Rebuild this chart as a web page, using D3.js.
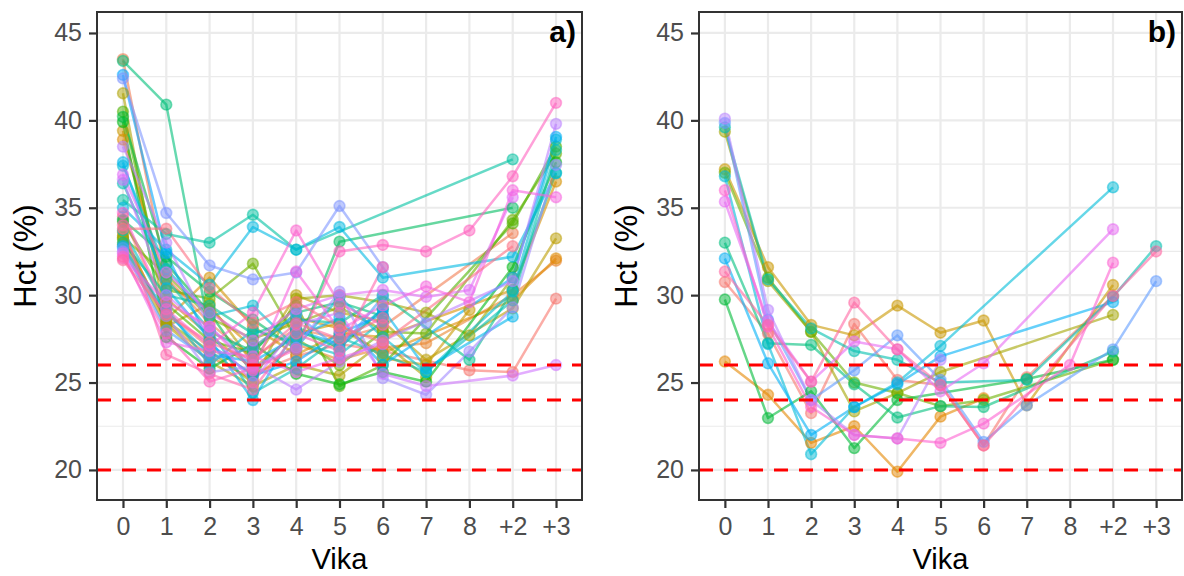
<!DOCTYPE html>
<html>
<head>
<meta charset="utf-8">
<script src="https://cdn.jsdelivr.net/npm/d3@7"></script>
<style>
  html, body { margin: 0; padding: 0; background: #fff; }
  svg { display: block; font-family: "Liberation Sans", Arial, sans-serif; }
</style>
</head>
<body>
<svg id="chart" width="1184" height="576"></svg>
<script>
// ---------- data ----------
const weeks = ["0", "1", "2", "3", "4", "5", "6", "7", "8", "+2", "+3"];
const yTicks = [20, 25, 30, 35, 40, 45];
const yMinor = [22.5, 27.5, 32.5, 37.5, 42.5];
const refLines = [20, 24, 26];
const panelTags = ["a)", "b)"];

// panel a: one row per subject, values per week (null = not measured)
const seriesA = [
  [34.5, 29.0, 27.0, 25.5, 26.5, 27.2, 26.8, null, 25.7, 25.6, 29.8],
  [43.5, 31.0, 28.4, 26.4, 28.1, 27.5, 28.2, null, null, 33.55, null],
  [33.6, 28.4, 26.5, 25.2, 27.2, 26.3, 27.0, 27.25, null, 30.0, 31.97],
  [38.9, 30.6, 29.2, 27.0, 28.7, 28.1, 26.7, null, null, 29.7, 32.1],
  [33.4, 28.6, 31.0, 28.2, 26.6, 27.8, 27.6, null, null, 30.3, 36.5],
  [39.4, 29.8, 27.7, 25.8, 27.8, 28.4, 26.4, 26.0, 29.15, null, null],
  [32.9, 28.2, 29.5, 26.1, 30.0, 29.0, 28.5, 26.3, null, 29.25, 33.25],
  [41.55, 28.3, 26.2, 24.8, 26.0, 25.4, 27.3, 25.3, null, null, null],
  [33.2, 28.5, 26.8, 25.0, 29.8, 30.0, 29.6, 29.0, 27.7, 31.0, null],
  [33.3, 31.2, 28.7, 27.5, 28.4, 29.3, 28.0, null, null, null, null],
  [34.2, 30.3, 29.8, 31.8, 27.5, 26.0, 27.9, 27.8, null, 34.3, 38.1],
  [40.5, 29.5, 27.4, 26.7, 29.4, 24.8, 26.0, null, null, 34.1, 38.5],
  [39.9, 27.6, 25.8, 27.2, 25.5, 24.9, 25.6, 25.05, null, 31.6, 37.6],
  [40.2, 31.8, 29.0, 25.5, 28.0, 27.0, 29.2, null, null, null, null],
  [34.3, 32.2, 30.2, 28.6, 26.9, 33.06, null, null, null, 35.0, null],
  [43.4, 40.9, 27.9, 26.8, 29.0, 29.6, 28.8, null, null, null, null],
  [33.0, 30.0, 29.4, 27.8, 28.6, 28.4, 30.0, null, 26.3, 30.3, 37.0],
  [35.45, 33.5, 33.0, 34.6, 32.6, null, null, null, null, 37.77, null],
  [36.4, 30.9, 28.0, 24.4, 25.8, 27.6, 26.6, 25.6, null, 29.7, 38.3],
  [33.7, 29.3, 26.0, 28.0, 27.3, 26.6, 28.5, null, null, null, null],
  [37.4, 31.5, 28.8, 29.4, 27.0, 29.9, 27.6, 25.6, null, 30.2, 38.9],
  [35.0, 32.6, 30.6, 33.9, 32.6, 33.9, 31.0, null, null, 32.2, 36.97],
  [37.6, 30.4, 27.5, 24.0, 28.0, 27.2, 29.2, 25.8, null, 28.77, null],
  [32.8, 29.0, 26.6, 26.2, 27.6, 28.7, 26.0, null, null, 31.0, 39.05],
  [42.6, 32.4, 27.2, 25.4, 26.2, 27.8, 28.9, null, null, null, null],
  [32.7, 28.0, 26.3, 27.0, 28.9, 26.9, 29.9, null, null, null, null],
  [42.4, 34.7, 31.7, 30.9, 31.3, 35.1, 31.6, 28.4, null, null, null],
  [32.5, 28.8, 25.6, 25.9, 27.0, 30.2, 25.25, 24.3, 26.77, 29.3, 37.45],
  [38.5, 33.0, 28.2, 26.0, 24.6, 26.2, 27.4, null, null, 30.8, 39.8],
  [36.6, 30.0, 27.9, 25.0, 28.3, 29.0, 25.5, 24.8, null, 25.4, 26.0],
  [36.9, 31.3, 29.0, 27.4, 29.2, 30.0, 30.3, 29.9, 30.3, 35.6, null],
  [32.4, 27.3, 26.8, 26.5, 25.6, 26.4, 27.2, null, null, null, null],
  [32.1, 29.6, 28.2, 25.7, 31.35, 28.0, 29.4, 30.5, 29.6, 36.0, 35.6],
  [34.7, 29.2, 27.1, 29.0, 33.7, 29.5, 28.3, null, null, null, null],
  [32.2, 27.8, 25.05, 25.8, 26.9, 32.5, 32.87, 32.5, 33.7, 36.8, 41.0],
  [34.0, 26.6, 25.5, 24.6, 27.8, 26.8, 31.6, null, null, null, null],
  [32.0, 28.9, 27.3, 26.3, 28.4, 27.5, 28.7, null, null, null, null],
  [33.8, 33.8, 30.4, 28.4, 29.6, 28.2, 27.3, null, null, 32.8, null]
];

// panel b
const seriesB = [
  [30.75, 27.8, 23.25, 28.35, 25.15, 24.86, 21.4, 25.3, null, 29.95, null],
  [26.2, 24.3, 21.55, 22.5, 19.9, 23.05, 24.1, null, null, null, null],
  [37.2, 31.6, 28.3, 27.7, 29.4, 27.85, 28.55, 23.7, null, 30.58, null],
  [39.35, 30.8, 27.9, 23.35, 24.4, 25.6, null, null, null, 28.87, null],
  [37.0, 31.0, 27.9, 25.0, 24.4, 23.65, 24.0, null, null, 26.3, null],
  [29.75, 22.97, 24.5, 21.25, 24.0, null, null, 25.2, null, 26.3, null],
  [33.0, 27.25, 27.15, 24.9, 23.0, 23.65, 23.6, null, null, 26.77, null],
  [39.6, 30.9, 28.1, 26.8, 26.3, 25.0, null, 25.15, null, 29.9, 32.8],
  [36.8, 27.2, 20.9, 23.6, 25.0, 27.1, null, null, null, 36.17, null],
  [32.1, 26.1, 22.0, 23.6, 24.9, 26.5, null, null, null, 29.6, null],
  [39.85, 28.6, 24.0, 25.7, 27.7, 25.15, 21.6, 23.7, null, 26.9, 30.8],
  [40.1, 29.15, 24.0, 22.0, 21.8, 26.3, null, null, null, null, null],
  [35.35, 28.5, 25.05, 27.35, 26.9, 24.5, 26.1, null, null, 33.77, null],
  [36.0, 28.2, 23.6, 22.0, 21.8, 21.55, 22.65, null, 26.0, 31.86, null],
  [31.35, 28.3, 25.05, 29.57, 26.9, 24.86, 21.4, null, null, 29.95, 32.5]
];

// ---------- ggplot-like hue palette (polar LUV, c=100, l=65) ----------
function hueColor(h) {
  const c = 100, l = 65;
  const hr = h * Math.PI / 180;
  const U = c * Math.cos(hr), V = c * Math.sin(hr);
  const Xn = 95.047, Yn = 100.0, Zn = 108.883;
  const Y = Yn * Math.pow((l + 16) / 116, 3);
  const den = Xn + 15 * Yn + 3 * Zn;
  const un = 4 * Xn / den, vn = 9 * Yn / den;
  const up = U / (13 * l) + un, vp = V / (13 * l) + vn;
  const X = 9 * Y * up / (4 * vp);
  const Z = Y * (12 - 3 * up - 20 * vp) / (4 * vp);
  const x = X / 100, y = Y / 100, z = Z / 100;
  let rgb = [
    3.240479 * x - 1.537150 * y - 0.498535 * z,
    -0.969256 * x + 1.875992 * y + 0.041556 * z,
    0.055648 * x - 0.204043 * y + 1.057311 * z
  ];
  rgb = rgb.map(v => {
    v = v <= 0.0031308 ? 12.92 * v : 1.055 * Math.pow(v, 1 / 2.4) - 0.055;
    return Math.round(Math.max(0, Math.min(1, v)) * 255);
  });
  return d3.rgb(rgb[0], rgb[1], rgb[2]).formatHex();
}
function huePal(n) {
  return d3.range(n).map(i => hueColor(15 + i * 360 / n));
}

// ---------- drawing ----------
const svg = d3.select("#chart");
const plotTop = 12, plotBottom = 500;
const yScale = d3.scaleLinear().domain([18.28, 46.2]).range([plotBottom, plotTop]);

const panels = [
  { x0: 97, x1: 582, data: seriesA, tag: panelTags[0], titleX: 36 },
  { x0: 699, x1: 1182, data: seriesB, tag: panelTags[1], titleX: 637 }
];

panels.forEach(p => {
  const xScale = d3.scalePoint().domain(weeks).range([p.x0, p.x1]).padding(0.6);
  const g = svg.append("g");
  const colors = huePal(p.data.length);

  // background + grid
  g.append("rect").attr("x", p.x0).attr("y", plotTop).attr("width", p.x1 - p.x0)
    .attr("height", plotBottom - plotTop).attr("fill", "#fff");
  g.append("g").selectAll("line").data(yMinor).join("line")
    .attr("x1", p.x0).attr("x2", p.x1)
    .attr("y1", d => yScale(d)).attr("y2", d => yScale(d))
    .attr("stroke", "#EBEBEB").attr("stroke-width", 1.2);
  g.append("g").selectAll("line").data(yTicks).join("line")
    .attr("x1", p.x0).attr("x2", p.x1)
    .attr("y1", d => yScale(d)).attr("y2", d => yScale(d))
    .attr("stroke", "#EBEBEB").attr("stroke-width", 2.2);
  g.append("g").selectAll("line").data(weeks).join("line")
    .attr("x1", d => xScale(d)).attr("x2", d => xScale(d))
    .attr("y1", plotTop).attr("y2", plotBottom)
    .attr("stroke", "#EBEBEB").attr("stroke-width", 2.2);

  // series lines
  const line = d3.line().x(d => xScale(d.w)).y(d => yScale(d.v));
  const seriesPts = p.data.map((row, i) => ({
    color: colors[i],
    pts: row.map((v, j) => ({ w: weeks[j], v })).filter(d => d.v !== null)
  }));
  g.append("g").selectAll("path").data(seriesPts).join("path")
    .attr("d", s => line(s.pts))
    .attr("fill", "none")
    .attr("stroke", s => s.color)
    .attr("stroke-width", 2.5)
    .attr("stroke-opacity", 0.6)
    .attr("stroke-linejoin", "round");

  // points
  const ptG = g.append("g");
  seriesPts.forEach(s => {
    ptG.append("g").selectAll("circle").data(s.pts).join("circle")
      .attr("cx", d => xScale(d.w)).attr("cy", d => yScale(d.v))
      .attr("r", 5.4)
      .attr("fill", s.color).attr("fill-opacity", 0.5)
      .attr("stroke", s.color).attr("stroke-opacity", 0.5)
      .attr("stroke-width", 1.6);
  });

  // reference lines
  g.append("g").selectAll("line").data(refLines).join("line")
    .attr("x1", p.x0).attr("x2", p.x1)
    .attr("y1", d => yScale(d)).attr("y2", d => yScale(d))
    .attr("stroke", "#FF0000").attr("stroke-width", 3)
    .attr("stroke-dasharray", "14,11");

  // border
  g.append("rect").attr("x", p.x0).attr("y", plotTop).attr("width", p.x1 - p.x0)
    .attr("height", plotBottom - plotTop).attr("fill", "none")
    .attr("stroke", "#333333").attr("stroke-width", 2);

  // axes
  const yAxis = g.append("g").attr("transform", `translate(${p.x0},0)`)
    .call(d3.axisLeft(yScale).tickValues(yTicks).tickSize(8).tickPadding(7));
  const xAxis = g.append("g").attr("transform", `translate(0,${plotBottom})`)
    .call(d3.axisBottom(xScale).tickSize(8).tickPadding(9));
  [yAxis, xAxis].forEach(a => {
    a.select(".domain").remove();
    a.selectAll(".tick line").attr("stroke", "#333333").attr("stroke-width", 2.2);
    a.selectAll(".tick text").attr("fill", "#4D4D4D")
      .style("font-size", "25px").style("font-family", "'Liberation Sans', Arial, sans-serif");
  });

  // titles
  g.append("text")
    .attr("transform", `translate(${p.titleX},${(plotTop + plotBottom) / 2}) rotate(-90)`)
    .attr("text-anchor", "middle").attr("fill", "#000")
    .style("font-size", "31px").text("Hct (%)");
  g.append("text")
    .attr("x", (p.x0 + p.x1) / 2).attr("y", 569)
    .attr("text-anchor", "middle").attr("fill", "#000")
    .style("font-size", "29px").text("Vika");
  g.append("text")
    .attr("x", p.x1 - 6).attr("y", 42)
    .attr("text-anchor", "end").attr("fill", "#000")
    .style("font-size", "30px").style("font-weight", "bold").text(p.tag);
});
</script>
</body>
</html>
